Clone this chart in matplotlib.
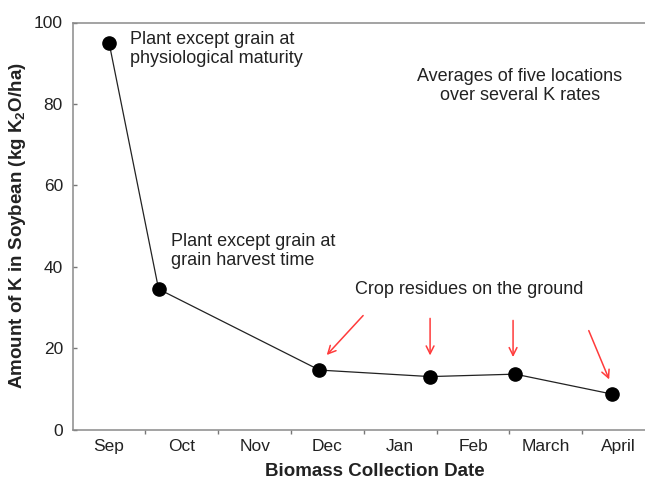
import matplotlib
matplotlib.use("Agg")
import matplotlib.pyplot as plt

plt.rcParams['font.family'] = ['Liberation Sans', 'DejaVu Sans']

months = ["Sep", "Oct", "Nov", "Dec", "Jan", "Feb", "March", "April"]
# collection dates as fractional month positions (Sep = 0)
collect_pos = [0.0, 0.68, 2.89, 4.41, 5.58, 6.91]
k_amount = [95.0, 34.5, 14.6, 13.0, 13.6, 8.7]

fig = plt.figure(figsize=(6.45, 4.82), dpi=100)
ax = fig.add_axes([72.7/645, (482-429.5)/482, (655-72.7)/645, (429.5-22.5)/482])

ax.plot(collect_pos, k_amount, color='#222222', lw=0.9, marker='o',
        markersize=9.5, markerfacecolor='black', markeredgecolor='black', zorder=3)

ax.set_xlim(-0.5, 7.5)
ax.set_ylim(0, 100)

for s in ['left', 'bottom', 'top', 'right']:
    ax.spines[s].set_color('#8a8a8a')
    ax.spines[s].set_linewidth(1.1)

ax.set_yticks([0, 20, 40, 60, 80, 100])
ax.tick_params(axis='y', direction='in', length=3, width=1, color='#777777',
               labelsize=12.5, labelcolor='#222222', pad=7)
ax.set_xticks([i + 0.5 for i in range(7)])
ax.set_xticklabels([])
ax.set_xticks(range(len(months)), minor=True)
ax.set_xticklabels(months, minor=True)
ax.tick_params(axis='x', which='major', direction='out', length=3, width=1, color='#777777')
ax.tick_params(axis='x', which='minor', length=0, labelsize=12.5, labelcolor='#222222', pad=7)

ax.set_ylabel("Amount of K in Soybean (kg K$_\\mathregular{2}$O/ha)", fontsize=13.5,
              fontweight='bold', color='#222222')
ax.yaxis.set_label_coords(-0.077, 0.5)
ax.set_xlabel("Biomass Collection Date", fontsize=13.5, fontweight='bold', color='#222222')
ax.xaxis.set_label_coords((375-72.7)/582.3, -0.082)

tc = '#222222'
fs = 13
ax.text(0.287, 97.9, "Plant except grain at\nphysiological maturity", fontsize=fs,
        color=tc, ha='left', va='top', linespacing=1.15)
ax.text(0.85, 48.3, "Plant except grain at\ngrain harvest time", fontsize=fs,
        color=tc, ha='left', va='top', linespacing=1.15)
ax.text(5.645, 88.8, "Averages of five locations\nover several K rates", fontsize=fs,
        color=tc, ha='center', va='top', linespacing=1.15)
ax.text(4.95, 36.5, "Crop residues on the ground", fontsize=fs,
        color=tc, ha='center', va='top')

red = '#ff3b3b'
arrows = [((3.49, 28.0), (2.99, 18.3)),
          ((4.41, 27.3), (4.41, 18.2)),
          ((5.55, 26.8), (5.55, 17.8)),
          ((6.59, 24.3), (6.87, 12.3))]
for (x0, y0), (x1, y1) in arrows:
    ax.annotate("", xy=(x1, y1), xytext=(x0, y0),
                arrowprops=dict(arrowstyle='->', color=red, lw=1.1,
                                mutation_scale=14, shrinkA=0, shrinkB=0))

fig.savefig("out.png", dpi=100)
